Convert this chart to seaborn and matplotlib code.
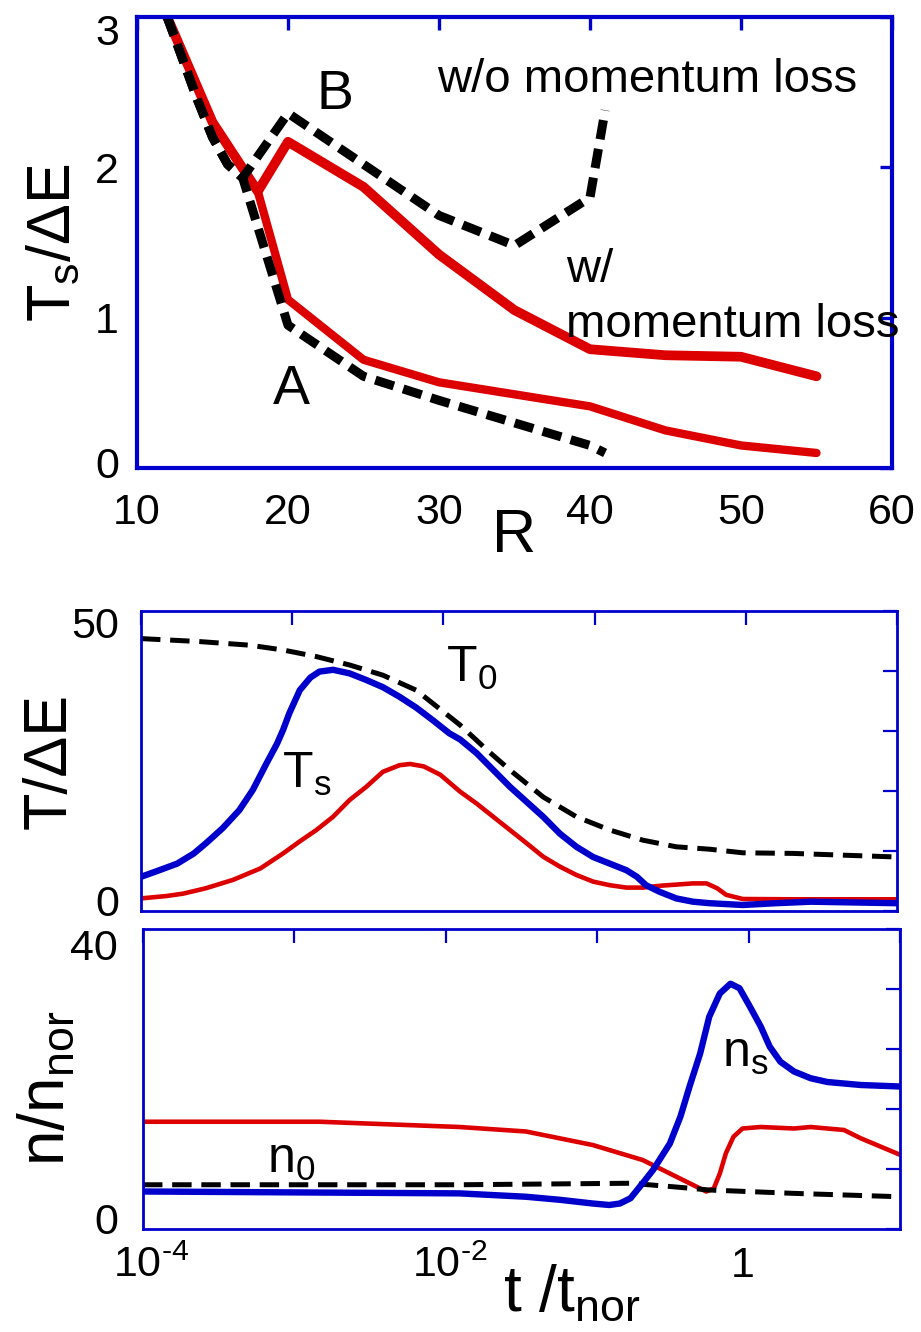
import numpy as np
import matplotlib
matplotlib.use("Agg")
import matplotlib.pyplot as plt
from matplotlib.ticker import NullLocator
from matplotlib.transforms import ScaledTranslation
import seaborn as sns

# --- Data ---
# top panel: Ts/dE against R
R_RED = [12, 15, 18, 20, 25, 30, 35, 40, 45, 50, 55]
TS_RED_B = [3.0, 2.3, 1.84, 2.17, 1.87, 1.42, 1.05, 0.79, 0.75, 0.74, 0.61]
TS_RED_A = [3.0, 2.3, 1.84, 1.12, 0.72, 0.57, 0.49, 0.41, 0.25, 0.15, 0.10]
R_DASH = [12, 14, 15, 16, 17, 20, 25, 30, 35, 40, 41]
TS_DASH_B = [3.0, 2.45, 2.2, 2.02, 1.93, 2.36, 2.02, 1.68, 1.48, 1.8, 2.38]
TS_DASH_A = [3.0, 2.45, 2.2, 2.02, 1.93, 0.95, 0.61, 0.45, 0.30, 0.15, 0.10]

# middle panel: T/dE against log10(t/t_nor)
LOGT_T0 = [-4, -3.61, -3.28, -3.06, -2.84, -2.62, -2.40, -2.18, -2.07, -1.89, -1.71,
           -1.56, -1.34, -1.12, -0.90, -0.68, -0.46, -0.24, -0.02, 0.31, 0.65, 1.0]
T0 = [45.4, 44.9, 44.3, 43.5, 42.4, 41.0, 39.3, 36.8, 34.6, 31.0, 26.8,
      23.5, 19.0, 15.7, 13.5, 11.8, 10.7, 10.3, 9.7, 9.6, 9.3, 9.0]
LOGT_TS_BLUE = [-4, -3.90, -3.76, -3.65, -3.57, -3.46, -3.35, -3.26, -3.17, -3.10, -3.06,
                -3.02, -2.95, -2.88, -2.82, -2.73, -2.62, -2.51, -2.40, -2.29, -2.18,
                -2.07, -1.96, -1.89, -1.78, -1.67, -1.56, -1.45, -1.34, -1.23, -1.12,
                -1.01, -0.90, -0.79, -0.72, -0.66, -0.57, -0.46, -0.35, -0.24, -0.02,
                0.20, 0.43, 1.0]
TS_BLUE = [5.7, 6.6, 7.9, 9.6, 11.3, 13.8, 16.8, 20.2, 24.6, 27.9, 30.2,
           32.9, 36.8, 38.9, 39.9, 40.2, 39.6, 38.5, 37.3, 35.7, 33.9,
           31.8, 29.6, 28.6, 26.3, 23.5, 20.7, 18.2, 15.7, 12.9, 10.7,
           9.0, 7.9, 6.8, 5.7, 4.3, 3.2, 2.1, 1.55, 1.3, 1.0,
           1.3, 1.55, 1.3]
LOGT_TS_RED = [-4, -3.83, -3.72, -3.57, -3.39, -3.21, -3.06, -2.95, -2.84, -2.73, -2.62,
               -2.51, -2.40, -2.29, -2.22, -2.13, -2.02, -1.89, -1.78, -1.67, -1.56,
               -1.45, -1.34, -1.23, -1.12, -1.01, -0.90, -0.79, -0.68, -0.57, -0.46,
               -0.35, -0.26, -0.19, -0.13, -0.02, 0.31, 1.0]
TS_RED = [2.1, 2.5, 2.9, 3.8, 5.2, 7.1, 9.6, 11.6, 13.5, 15.7, 18.5,
          20.7, 23.2, 24.3, 24.5, 24.1, 22.7, 19.9, 17.9, 15.7, 13.5,
          11.3, 9.05, 7.4, 6.0, 4.9, 4.3, 3.9, 3.9, 4.2, 4.4,
          4.6, 4.6, 3.8, 2.7, 2.0, 1.95, 1.95]

# bottom panel: n/n_nor against log10(t/t_nor)
LOGT_N0 = [-4, -1.9, -0.78, -0.48, -0.26, 0.30, 1.0]
N0 = [5.9, 5.9, 6.1, 5.6, 5.2, 4.75, 4.3]
LOGT_NS_BLUE = [-4, -1.91, -1.47, -1.25, -1.03, -0.92, -0.85, -0.78, -0.70, -0.63, -0.52,
                -0.45, -0.39, -0.32, -0.26, -0.19, -0.12, -0.06, 0.01, 0.08, 0.14,
                0.21, 0.30, 0.41, 0.52, 0.74, 1.0]
NS_BLUE = [5.0, 4.75, 4.3, 3.9, 3.4, 3.2, 3.4, 4.1, 6.1, 7.9, 11.4,
           15.0, 19.0, 23.4, 28.3, 31.4, 32.7, 32.1, 29.6, 27.0, 24.3,
           22.3, 21.0, 20.1, 19.6, 19.2, 19.0]
LOGT_NS_RED = [-4, -2.83, -1.91, -1.47, -1.03, -0.70, -0.48, -0.37, -0.28, -0.23, -0.19,
               -0.15, -0.10, -0.04, 0.08, 0.30, 0.41, 0.63, 0.74, 1.0]
NS_RED = [14.3, 14.3, 13.6, 13.0, 11.2, 9.2, 7.0, 5.9, 5.0, 5.4, 7.4,
          10.1, 12.3, 13.4, 13.6, 13.4, 13.6, 13.2, 12.1, 9.9]

BLUE = "#0000cc"
RED = "#dd0000"

sns.set_style("white")
plt.rcParams["font.family"] = ["Liberation Sans", "DejaVu Sans"]
plt.rcParams["mathtext.default"] = "regular"
plt.rcParams["lines.scale_dashes"] = False
plt.rcParams["text.color"] = "black"
plt.rcParams["axes.labelcolor"] = "black"

fig = plt.figure(figsize=(9.21, 13.32), dpi=100)
W, H = 921, 1332
ax1 = fig.add_axes([137 / W, 1 - 468 / H, 755 / W, 451 / H])
ax2 = fig.add_axes([141 / W, 1 - 911 / H, 756 / W, 300 / H])
ax3 = fig.add_axes([143 / W, 1 - 1229 / H, 757 / W, 300 / H])


def frame(ax, lw, tlen, xpad, ypad):
    for sp in ax.spines.values():
        sp.set_visible(True)
        sp.set_color(BLUE)
        sp.set_linewidth(lw)
    ax.tick_params(which="both", direction="in", top=True, right=True,
                   color=BLUE, length=tlen, width=lw * 0.8, labelsize=31,
                   labelcolor="black")
    ax.tick_params(axis="x", pad=xpad)
    ax.tick_params(axis="y", pad=ypad)


def line(ax, x, y, color, lw, dashed=False):
    kw = dict(linestyle=(0, (14, 7))) if dashed else {}
    sns.lineplot(x=x, y=y, ax=ax, color=color, lw=lw, estimator=None,
                 sort=False, **kw)


def nudge(label, dx, dy):
    # shift a tick label by a few pixels (dy > 0 moves it down)
    label.set_transform(label.get_transform()
                        + ScaledTranslation(dx / 100, -dy / 100, fig.dpi_scale_trans))


t = lambda v: 10.0 ** np.asarray(v)

# --- Top panel ---
line(ax1, R_RED, TS_RED_A, RED, 6.0)
line(ax1, R_RED, TS_RED_B, RED, 7.0)
line(ax1, R_DASH, TS_DASH_A, "black", 6.5, dashed=True)
line(ax1, R_DASH, TS_DASH_B, "black", 6.5, dashed=True)
ax1.set_xlim(10, 60)
ax1.set_ylim(0, 3)
ax1.set_xticks([10, 20, 30, 40, 50, 60])
ax1.set_yticks([0, 1, 2, 3])
frame(ax1, 3.0, 9, 18, 13)
ax1.set_xlabel("R", fontsize=44, va="top")
ax1.xaxis.set_label_coords(0.5, -0.088)
ax1.set_ylabel("T$_s$/ΔE", fontsize=44, va="center")
ax1.yaxis.set_label_coords(-0.11, 0.5)
ax1.text(23.1, 2.48, "B", fontsize=40, ha="center", va="center")
ax1.text(20.2, 0.52, "A", fontsize=40, ha="center", va="center")
ax1.text(29.9, 2.5, "w/o momentum loss", fontsize=34, ha="left", va="baseline")
ax1.text(38.4, 1.24, "w/", fontsize=34, ha="left", va="baseline")
ax1.text(38.4, 0.87, "momentum loss", fontsize=34, ha="left", va="baseline")

# --- Middle panel ---
line(ax2, t(LOGT_T0), T0, "black", 3.6, dashed=True)
line(ax2, t(LOGT_TS_RED), TS_RED, RED, 3.3)
line(ax2, t(LOGT_TS_BLUE), TS_BLUE, BLUE, 4.6)
ax2.set_xscale("log")
ax2.set_xlim(1e-4, 10)
ax2.set_ylim(0, 50)
ax2.set_xticks(t([-4, -3, -2, -1, 0, 1]))
ax2.xaxis.set_minor_locator(NullLocator())
ax2.set_xticklabels([])
ax2.set_yticks([0, 10, 20, 30, 40, 50])
ax2.set_yticklabels(["0", "", "", "", "", "50"])
frame(ax2, 2.0, 10, 8, 16)
ax2.set_xlabel("")
ax2.set_ylabel("T/ΔE", fontsize=44, va="center")
ax2.yaxis.set_label_coords(-0.12, 0.5)
ax2.text(t(-1.98), 38.2, "T$_0$", fontsize=36, ha="left", va="baseline")
ax2.text(t(-3.07), 20.5, "T$_s$", fontsize=36, ha="left", va="baseline")

# --- Bottom panel ---
line(ax3, t(LOGT_NS_RED), NS_RED, RED, 3.3)
line(ax3, t(LOGT_N0), N0, "black", 3.6, dashed=True)
line(ax3, t(LOGT_NS_BLUE), NS_BLUE, BLUE, 4.6)
ax3.set_xscale("log")
ax3.set_xlim(1e-4, 10)
ax3.set_ylim(0, 40)
ax3.set_xticks(t([-4, -3, -2, -1, 0, 1]))
ax3.xaxis.set_minor_locator(NullLocator())
ax3.set_xticklabels(["10$^{\u2010 4}$", "", "10$^{\u2010 2}$", "", "1", ""])
ax3.set_yticks([0, 8, 16, 24, 32, 40])
ax3.set_yticklabels(["0", "", "", "", "", "40"])
frame(ax3, 2.0, 10, 12, 18)
ax3.set_xlabel("t /t$_{nor}$", fontsize=46, va="top")
ax3.xaxis.set_label_coords(0.567, -0.115)
ax3.set_ylabel("n/n$_{nor}$", fontsize=46, va="center")
ax3.yaxis.set_label_coords(-0.128, 0.47)
ax3.text(t(-0.176), 21.6, "n$_s$", fontsize=36, ha="left", va="baseline")
ax3.text(t(-3.18), 7.5, "n$_0$", fontsize=36, ha="left", va="baseline")

# end labels of the y axes sit a little inside the frame, as in the original
yl1 = ax1.get_yticklabels()
nudge(yl1[0], 0, -6)
nudge(yl1[-1], 0, 13)
yl2 = ax2.get_yticklabels()
nudge(yl2[0], 0, -10)
nudge(yl2[-1], 0, 11)
yl3 = ax3.get_yticklabels()
nudge(yl3[0], 0, -10)
nudge(yl3[-1], 0, 15)
xl3 = ax3.get_xticklabels()
nudge(xl3[0], 8, 0)
nudge(xl3[2], 4, 0)
nudge(xl3[4], -6, 0)

fig.savefig("out.png", dpi=100)
